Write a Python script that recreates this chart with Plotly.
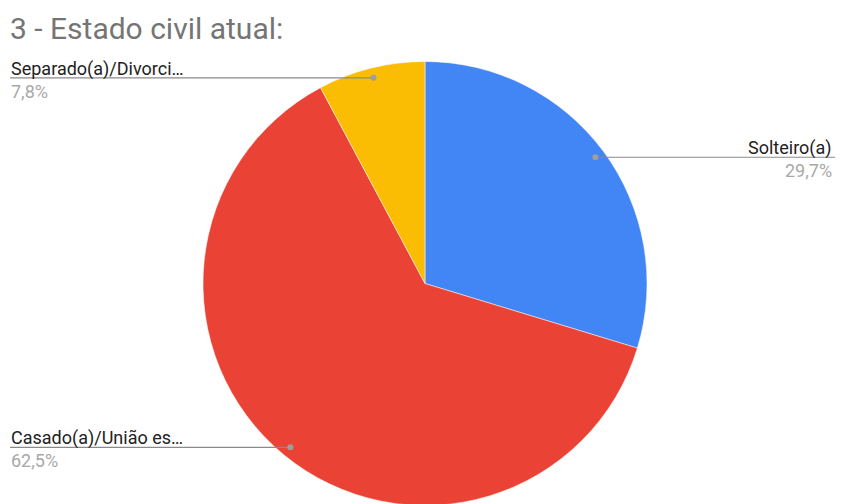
import math
import plotly.graph_objects as go

# Data
categories = ["Solteiro(a)", "Casado(a)/União estável", "Separado(a)/Divorciado(a)"]
short_labels = ["Solteiro(a)", "Casado(a)/União es…", "Separado(a)/Divorci…"]
values = [29.7, 62.5, 7.8]
colors = ["#4285F4", "#EA4335", "#FBBC04"]

OFF = 8  # page body margin
W, H = 843 - OFF, 500
cx, cy, R = 425, 283.5, 222
FONT = "Roboto, Arial, sans-serif"

def px(x):
    return (x - OFF) / W

def py(y):
    return 1 - (y - OFF) / H

fig = go.Figure()
fig.add_trace(go.Pie(
    labels=categories, values=values, sort=False, direction="clockwise",
    rotation=0, marker=dict(colors=colors, line=dict(color="white", width=0.5)),
    textinfo="none", hoverinfo="label+percent", showlegend=False,
    domain=dict(x=[px(cx - R), px(cx + R)], y=[max(0, py(cy + R)), py(cy - R)]),
))

total = sum(values)
shapes = []
annotations = []
cum = 0.0
for lab, v in zip(short_labels, values):
    mid = (cum + v / 2) / total * 2 * math.pi
    cum += v
    dr = 0.955 * R
    dx = cx + dr * math.sin(mid)
    dy = cy - dr * math.cos(mid)
    pct = f"{v / total * 100:.1f}%".replace(".", ",")
    if math.sin(mid) >= 0:
        x_end, x_txt = 838, 834
        anchor = "right"
    else:
        x_end, x_txt = 10, 9
        anchor = "left"
    shapes.append(dict(type="line", xref="paper", yref="paper",
                       x0=px(dx), y0=py(dy), x1=px(x_end), y1=py(dy),
                       line=dict(color="#8a8a8a", width=1.2)))
    shapes.append(dict(type="circle", xref="paper", yref="paper",
                       x0=px(dx - 3), x1=px(dx + 3), y0=py(dy + 3), y1=py(dy - 3),
                       fillcolor="#9e9e9e", line=dict(width=0)))
    annotations.append(dict(text=lab, x=px(x_txt), y=py(dy + 4), xref="paper", yref="paper",
                            xanchor=anchor, yanchor="bottom", showarrow=False,
                            font=dict(family=FONT, size=18, color="#222222")))
    annotations.append(dict(text=pct, x=px(x_txt), y=py(dy + 1), xref="paper", yref="paper",
                            xanchor=anchor, yanchor="top", showarrow=False,
                            font=dict(family=FONT, size=18, color="#a8a8a8")))

annotations.append(dict(text="3 - Estado civil atual:", x=px(8), y=py(9), xref="paper", yref="paper",
                        xanchor="left", yanchor="top", showarrow=False,
                        font=dict(family=FONT, size=30, color="#757575")))

fig.update_layout(
    width=W, height=H, margin=dict(l=0, r=0, t=0, b=0),
    paper_bgcolor="white", plot_bgcolor="white",
    shapes=shapes, annotations=annotations,
)

fig.write_html("out.html")
